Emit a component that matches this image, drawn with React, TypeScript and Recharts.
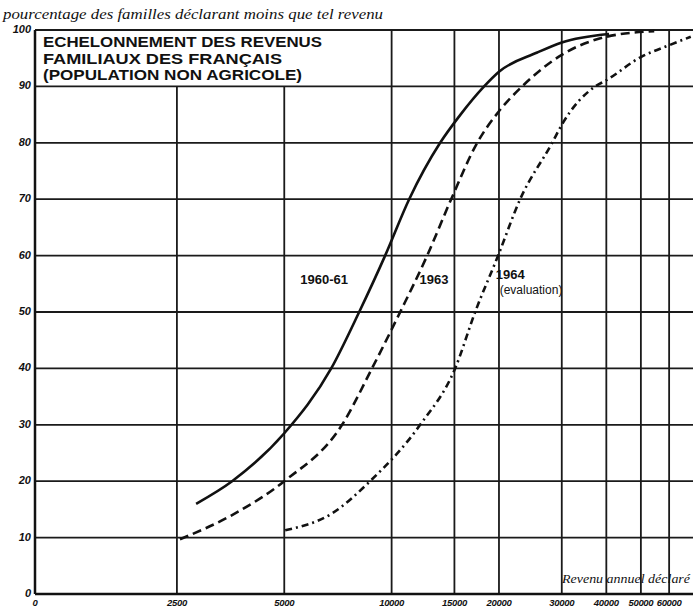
import { LineChart, Line, XAxis, YAxis, ReferenceLine, ReferenceDot } from "recharts";

// axes
const incomeTicks = [1000, 2500, 5000, 10000, 15000, 20000, 30000, 40000, 50000, 60000];
const percentTicks = [0, 10, 20, 30, 40, 50, 60, 70, 80, 90, 100];
const fullGridX = [10000, 15000, 20000, 30000, 40000, 50000, 60000];
const shortGridX = [2500, 5000];

// 1960-61 (trait plein)
const income6061 = [2830, 3570, 5000, 6770, 8110, 9590, 11200, 13680, 15600, 18170, 20000, 25600, 30000, 40700];
const pct6061 = [16, 20, 28.5, 40, 50, 60, 70, 80, 85, 90, 92.6, 96, 97.8, 99.3];

// 1963 (tirets)
const income1963 = [2550, 3570, 5000, 7260, 8810, 10570, 12580, 14690, 17380, 20000, 23230, 30000, 40000, 54500];
const pct1963 = [9.7, 14, 20, 30, 40, 50, 60, 70, 80, 85.6, 90, 95.6, 98.8, 99.8];

// 1964 evaluation (trait-point)
const income1964 = [5030, 6810, 8700, 12020, 15070, 17150, 19890, 22930, 28200, 30000, 37230, 40000, 50000, 60000, 69000];
const pct1964 = [11.3, 14.3, 20, 30, 40, 50, 60, 70, 80, 83.2, 90, 91.1, 95.2, 97.3, 98.8];

const toPoints = (xs: number[], ys: number[]) => xs.map((x, i) => ({ x, y: ys[i] }));

const data6061 = toPoints(income6061, pct6061);
const data1963 = toPoints(income1963, pct1963);
const data1964 = toPoints(income1964, pct1964);

const ink = "#111";
const grid = { stroke: "#1a1a1a", strokeWidth: 1.8 };
const labelFont = "'Liberation Sans', Arial, sans-serif";

export default function App() {
  return (
    <div style={{ position: "absolute", left: 0, top: 0, width: 693, height: 612, background: "#fff" }}>
      <LineChart width={693} height={612} margin={{ top: 30, right: 0, bottom: 0, left: 0 }}>
        <XAxis
          type="number"
          dataKey="x"
          scale="log"
          domain={[1000, 70000]}
          ticks={incomeTicks}
          interval={0}
          allowDataOverflow
          tickFormatter={(v: number) => (v === 1000 ? "0" : String(v))}
          axisLine={{ stroke: ink, strokeWidth: 2.5 }}
          tickLine={false}
          tickSize={0}
          tickMargin={5}
          height={18}
          tick={{ fill: ink, fontSize: 9.5, fontWeight: 700, fontStyle: "italic", fontFamily: labelFont, letterSpacing: -0.3 }}
        />
        <YAxis
          type="number"
          dataKey="y"
          domain={[0, 100]}
          ticks={percentTicks}
          interval={0}
          width={35}
          axisLine={{ stroke: ink, strokeWidth: 2.5 }}
          tickLine={false}
          tickSize={0}
          tickMargin={4}
          tick={{ fill: ink, fontSize: 11, fontWeight: 700, fontStyle: "italic", fontFamily: labelFont, dy: -1 }}
        />

        {percentTicks.slice(1).map((v) => (
          <ReferenceLine key={"h" + v} y={v} {...grid} />
        ))}
        {fullGridX.map((v) => (
          <ReferenceLine key={"v" + v} x={v} {...grid} />
        ))}
        {shortGridX.map((v) => (
          <ReferenceLine key={"s" + v} segment={[{ x: v, y: 0 }, { x: v, y: 90 }]} {...grid} />
        ))}

        <Line data={data6061} dataKey="y" type="monotone" stroke={ink} strokeWidth={2.6} dot={false} isAnimationActive={false} />
        <Line data={data1963} dataKey="y" type="monotone" stroke={ink} strokeWidth={2.6} strokeDasharray="9 5" dot={false} isAnimationActive={false} />
        <Line data={data1964} dataKey="y" type="monotone" stroke={ink} strokeWidth={2.6} strokeDasharray="7 4 2 4" dot={false} isAnimationActive={false} />

        <ReferenceDot x={6470} y={55.7} r={0} stroke="none"
          label={{ value: "1960-61", position: "center", fill: ink, fontSize: 13, fontWeight: 700, fontFamily: labelFont }} />
        <ReferenceDot x={13150} y={55.7} r={0} stroke="none"
          label={{ value: "1963", position: "center", fill: ink, fontSize: 13, fontWeight: 700, fontFamily: labelFont }} />
        <ReferenceDot x={21500} y={56.6} r={0} stroke="none"
          label={{ value: "1964", position: "center", fill: ink, fontSize: 13, fontWeight: 700, fontFamily: labelFont }} />
        <ReferenceDot x={24600} y={54} r={0} stroke="none"
          label={{ value: "(evaluation)", position: "center", fill: ink, fontSize: 12, fontFamily: labelFont }} />
      </LineChart>

      <svg width={693} height={612} style={{ position: "absolute", left: 0, top: 0, pointerEvents: "none" }}>
        <text x={3} y={19} textLength={380} lengthAdjust="spacingAndGlyphs" fill={ink}
          style={{ fontFamily: "'Liberation Serif', serif", fontStyle: "italic", fontSize: 14 }}>
          pourcentage des familles déclarant moins que tel revenu
        </text>
        <g fill={ink} style={{ fontFamily: labelFont, fontWeight: 700, fontSize: 15.5 }}>
          <text x={43} y={47} textLength={279} lengthAdjust="spacingAndGlyphs">ECHELONNEMENT DES REVENUS</text>
          <text x={43} y={63.5} textLength={239} lengthAdjust="spacingAndGlyphs">FAMILIAUX DES FRANÇAIS</text>
          <text x={43} y={80} textLength={259} lengthAdjust="spacingAndGlyphs">(POPULATION NON AGRICOLE)</text>
        </g>
        <text x={562} y={583} textLength={128} lengthAdjust="spacingAndGlyphs" fill={ink}
          style={{ fontFamily: "'Liberation Serif', serif", fontStyle: "italic", fontSize: 12 }}>
          Revenu annuel déclaré
        </text>
      </svg>
    </div>
  );
}
